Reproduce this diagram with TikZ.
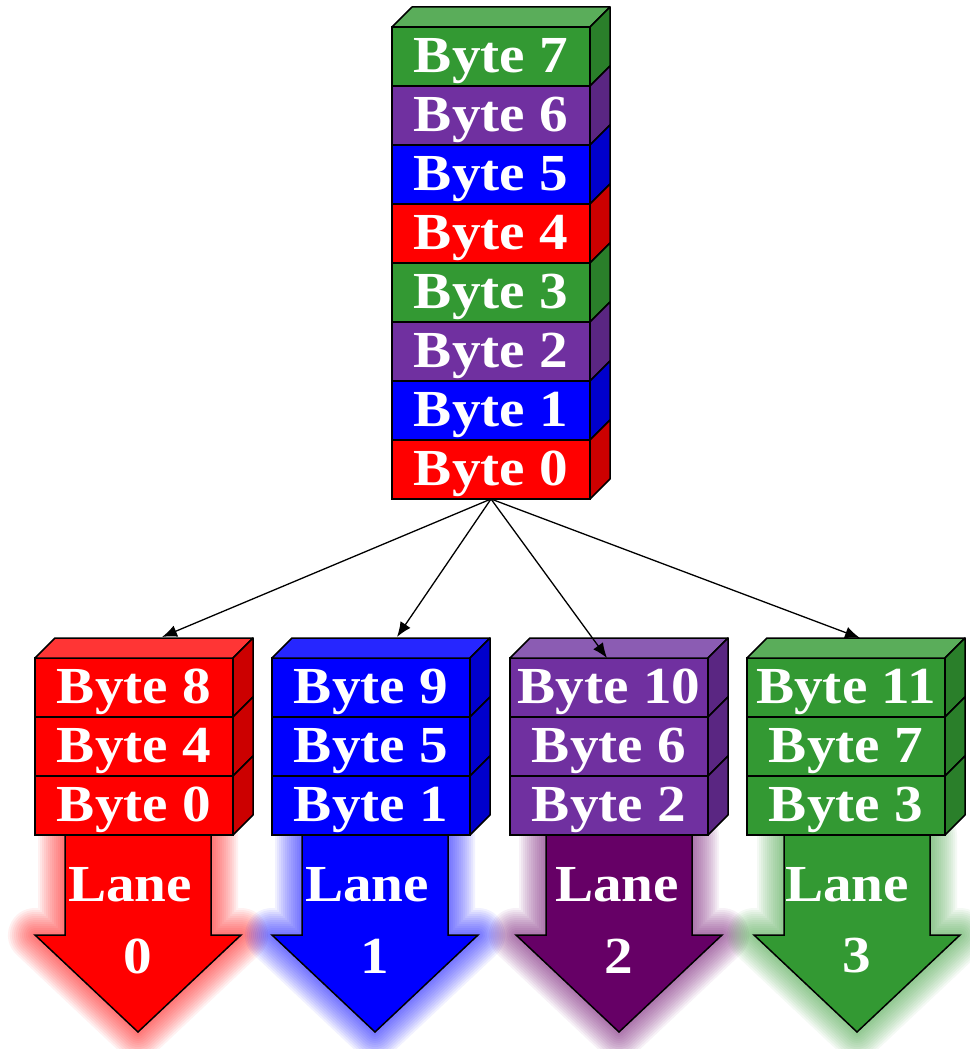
\documentclass[tikz,border=0pt]{standalone}
\usepackage{fontspec}
\newfontfamily\bytefont{Liberation Serif}[FakeStretch=1.1]
\usetikzlibrary{positioning,arrows.meta}

% front / top / side / lane-arrow shades
\definecolor{redF}{HTML}{FF0000}\definecolor{redT}{HTML}{FF3535}\definecolor{redS}{HTML}{CC0000}\definecolor{redA}{HTML}{FF0000}
\definecolor{blueF}{HTML}{0000FF}\definecolor{blueT}{HTML}{2626FF}\definecolor{blueS}{HTML}{0000CC}\definecolor{blueA}{HTML}{0000FF}
\definecolor{purpleF}{HTML}{7030A0}\definecolor{purpleT}{HTML}{8B5CB3}\definecolor{purpleS}{HTML}{5A2682}\definecolor{purpleA}{HTML}{660066}
\definecolor{greenF}{HTML}{339933}\definecolor{greenT}{HTML}{5AAD5A}\definecolor{greenS}{HTML}{2A7F2A}\definecolor{greenA}{HTML}{339933}

\tikzset{
  byte/.style={draw, fill=#1, line width=1.5pt, minimum width=198pt, minimum height=59pt,
    inner sep=0pt, outer sep=0pt, text height=35pt, text depth=3pt,
    text=white, font=\bytefont\bfseries\fontsize{52}{52}\selectfont},
  lanetext/.style={inner sep=0pt, text=white, font=\bytefont\bfseries\fontsize{52}{52}\selectfont},
  conn/.style={line width=1.3pt, -{Latex[length=15pt,width=12pt]}}
}
\newcommand\sideface[2]{\filldraw[fill=#2, line width=1.5pt, line join=round]
  (#1.north east) -- ++(20,-20) -- ++(0,59) -- (#1.south east) -- cycle;}
\newcommand\topface[2]{\filldraw[fill=#2, line width=1.5pt, line join=round]
  (#1.north west) -- ++(20,-20) -- ++(198,0) -- (#1.north east) -- cycle;}

\begin{document}
\begin{tikzpicture}[x=1pt, y=-1pt]
\useasboundingbox (0,0) rectangle (969,1049);

% the 8-byte stack
\node[byte=greenF] (b7) at (491,56.5) {Byte 7};
\foreach \n/\m/\col in {6/7/purple, 5/6/blue, 4/5/red, 3/4/green, 2/3/purple, 1/2/blue, 0/1/red}
  \node[byte=\col F, below=0pt of b\m] (b\n) {Byte \n};
\topface{b7}{greenT}
\foreach \n/\col in {7/green, 6/purple, 5/blue, 4/red, 3/green, 2/purple, 1/blue, 0/red}
  {\sideface{b\n}{\col S}}

% the four lanes
\foreach \i/\col/\bx/\ax/\lx/\tx/\ty in {0/red/134/138/130/162/637, 1/blue/371/375/367/397/637,
    2/purple/609/619/617/607/658, 3/green/846/857/847/860/638}{
  \pgfmathtruncatemacro\hi{\i+8}
  \pgfmathtruncatemacro\mi{\i+4}
  % soft halo
  \foreach \w in {54,50,...,6}
    \draw[\col A, line width=\w pt, opacity=0.055, line join=round]
      ({\ax-73},835) -- ({\ax-73},935) -- ({\ax-103},935) -- (\ax,1032)
      -- ({\ax+103},935) -- ({\ax+73},935) -- ({\ax+73},835) -- cycle;
  \filldraw[fill=\col A, line width=1.5pt]
      ({\ax-73},835) -- ({\ax-73},935) -- ({\ax-103},935) -- (\ax,1032)
      -- ({\ax+103},935) -- ({\ax+73},935) -- ({\ax+73},835) -- cycle;
  \node[byte=\col F] (l\i-top) at (\bx,687.5) {Byte \hi};
  \node[byte=\col F, below=0pt of l\i-top] (l\i-mid) {Byte \mi};
  \node[byte=\col F, below=0pt of l\i-mid] (l\i-bot) {Byte \i};
  \topface{l\i-top}{\col T}
  \sideface{l\i-top}{\col S}
  \sideface{l\i-mid}{\col S}
  \sideface{l\i-bot}{\col S}
  \node[lanetext] (lane\i) at (\lx,885) {Lane};
  \node[lanetext] (num\i) at (\ax,956) {\i};
  \coordinate (tip\i) at (\tx,\ty);
}

\foreach \i in {0,...,3}
  \draw[conn] (b0.south) -- (tip\i);
\end{tikzpicture}
\end{document}
